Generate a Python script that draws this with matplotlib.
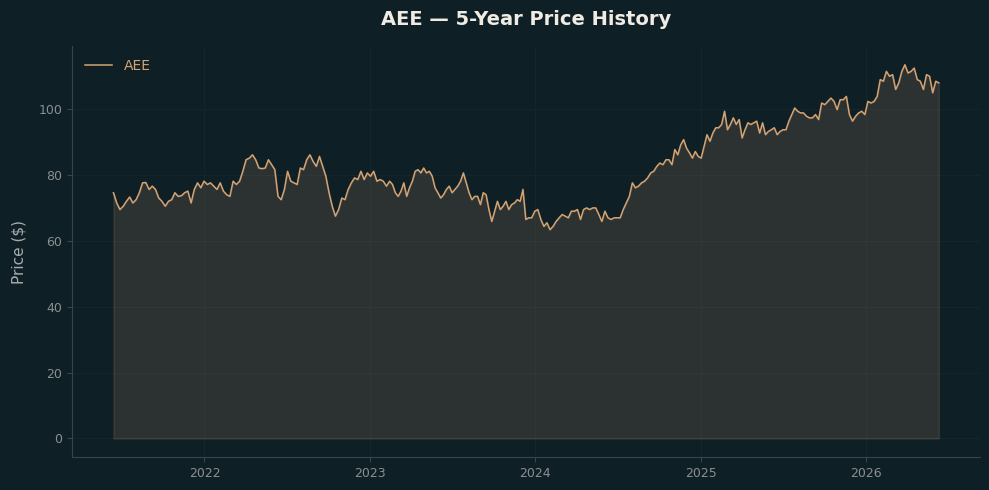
import matplotlib
matplotlib.use("Agg")
import matplotlib.pyplot as plt
import pandas as pd

ticker = "AEE"
title = "AEE — 5-Year Price History"

# weekly closes, one list per stretch
seg_starts = ["2021-06-14", "2022-04-10", "2023-02-14", "2023-12-18",
              "2024-10-23", "2025-08-29", "2026-06-11"]

p1 = [74.5, 71.4, 69.4, 70.4, 71.9, 73.2, 71.4, 72.4, 74.5, 77.5, 77.6, 75.5,
      76.5, 75.5, 72.9, 71.9, 70.4, 71.9, 72.4, 74.5, 73.4, 73.6, 74.5, 75.0,
      71.4, 75.5, 77.5, 76.0, 78.0, 77.0, 77.5, 76.5, 75.5, 77.5, 75.0, 73.9,
      73.4, 78.0, 77.0, 78.0, 81.0, 84.5]
p2 = [85.0, 86.0, 84.5, 82.0, 81.8, 82.0, 84.5, 83.0, 81.5, 73.4, 72.4, 75.5,
      81.0, 78.0, 77.5, 77.0, 82.0, 81.5, 84.5, 86.0, 84.0, 82.5, 85.5, 82.5,
      79.5, 74.5, 70.4, 67.4, 69.4, 72.9, 72.4, 75.5, 77.5, 79.0, 78.5, 81.0,
      78.5, 80.5, 79.5, 81.0, 78.0, 78.5, 78.0, 76.5]
p3 = [78.0, 77.0, 74.5, 73.4, 75.0, 77.5, 73.4, 76.0, 78.0, 81.0, 81.5, 80.5,
      82.0, 80.5, 81.0, 79.5, 76.0, 74.5, 72.9, 73.9, 75.5, 76.5, 74.5, 75.5,
      76.5, 78.0, 80.5, 77.5, 74.5, 72.4, 73.4, 73.4, 70.9, 74.5, 73.9, 69.4,
      65.8, 68.9, 71.9, 69.4, 70.4, 71.9, 69.4, 70.9, 71.4, 72.4, 71.9, 75.5,
      66.4]
p4 = [66.9, 66.9, 68.9, 69.4, 66.4, 64.3, 65.4, 63.3, 64.3, 65.8, 66.9, 67.9,
      67.4, 66.9, 68.9, 68.9, 69.4, 66.4, 69.4, 69.9, 69.4, 69.9, 69.9, 67.9,
      65.8, 68.9, 66.9, 66.4, 66.9, 66.9, 66.9, 69.4, 71.4, 73.4, 77.5, 76.0,
      76.5, 77.5, 78.0, 79.0, 80.5, 81.0, 82.5, 83.5, 83.0, 84.5]
p5 = [84.5, 83.0, 87.6, 86.0, 89.0, 90.6, 88.0, 86.6, 85.0, 87.0, 85.5, 85.0,
      88.6, 92.1, 90.1, 92.6, 94.2, 94.2, 95.2, 99.2, 93.6, 95.2, 97.2, 95.2,
      96.7, 91.1, 93.6, 95.7, 95.2, 95.7, 96.2, 92.6, 95.7, 92.1, 93.1, 93.6,
      94.2, 92.1, 93.1, 93.6, 93.6, 96.2, 98.2, 100.2, 99.2, 98.7, 98.7, 97.7]
p6 = [97.2, 97.2, 98.2, 96.7, 101.7, 101.2, 102.2, 103.2, 102.2, 99.7, 102.7,
      102.7, 103.7, 98.2, 96.2, 97.7, 98.7, 99.2, 98.2, 102.2, 101.7, 102.2,
      103.7, 108.8, 108.3, 111.3, 109.8, 110.3, 105.8, 107.8, 111.3, 113.3,
      110.8, 111.3, 112.3, 108.8, 108.3, 105.8, 110.3, 109.8, 104.8, 108.3,
      107.8]

segments = [p1, p2, p3, p4, p5, p6]
dates = []
for i, seg in enumerate(segments):
    last = i == len(segments) - 1
    rng = pd.date_range(seg_starts[i], seg_starts[i + 1], periods=len(seg) + (0 if last else 1))
    dates.extend(rng if last else rng[:-1])
prices = [v for seg in segments for v in seg]

bg = "#0f1f26"
line_c = "#d4a373"

fig = plt.figure(figsize=(9.89, 4.9), dpi=100, facecolor=bg)
ax = fig.add_axes([0.073, 0.067, 0.918, 0.839])
ax.set_facecolor(bg)

ax.fill_between(dates, prices, color=line_c, alpha=0.15)
ax.plot(dates, prices, color=line_c, lw=1.1, label=ticker)

ax.grid(True, color="#15272e", lw=0.6)
ax.set_axisbelow(True)
for s in ["top", "right"]:
    ax.spines[s].set_visible(False)
for s in ["left", "bottom"]:
    ax.spines[s].set_color("#3b4549")
ax.tick_params(colors="#3b4549", labelcolor="#8a8f90", labelsize=9)

ax.set_ylabel("Price ($)", color="#a8acad", fontsize=11, labelpad=9)
ax.set_title(title, color="#f0ece4", fontsize=14, fontweight="bold", pad=15)

leg = ax.legend(loc="upper left", frameon=False, fontsize=10)
for t in leg.get_texts():
    t.set_color(line_c)

fig.savefig("out.png", facecolor=bg)
